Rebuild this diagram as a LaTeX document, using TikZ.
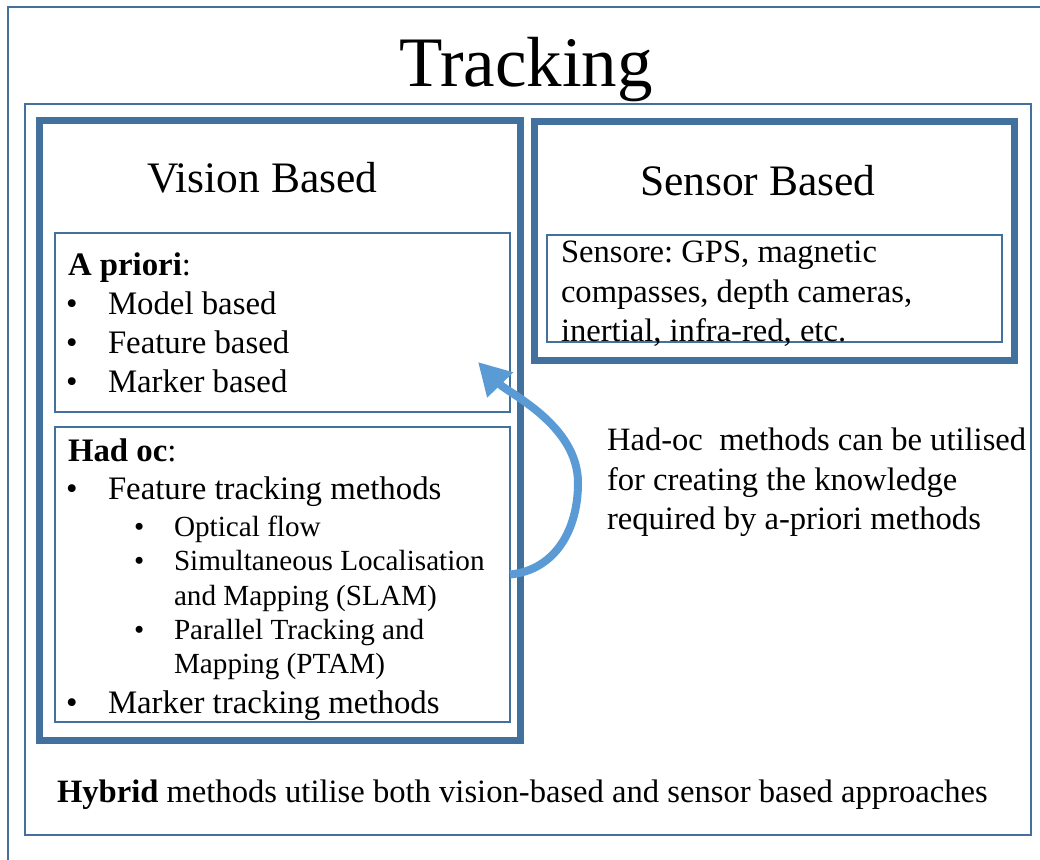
\documentclass[tikz,border=0pt]{standalone}
\usepackage{fontspec}
\setmainfont{Liberation Serif}
\frenchspacing
\usetikzlibrary{arrows.meta,calc}
\definecolor{boxblue}{RGB}{65,113,156}
\definecolor{arrowblue}{RGB}{91,155,213}
\tikzset{
  frame/.style={draw=boxblue, line width=2pt},
  thickbox/.style={draw=boxblue, line width=7pt, outer sep=0pt, inner sep=0pt, anchor=north west},
  thinbox/.style={draw=boxblue, line width=1.5pt, outer sep=0pt, inner sep=0pt, anchor=north west},
  txt/.style={inner sep=0pt, outer sep=0pt, anchor=base west, font=\fontsize{32.8}{39}\selectfont},
  subtxt/.style={txt, font=\fontsize{29.2}{35}\selectfont},
  bigtxt/.style={txt, font=\fontsize{32.6}{39}\selectfont},
  heading/.style={txt, font=\fontsize{43.5}{52}\selectfont},
}
\begin{document}
\begin{tikzpicture}[x=1pt,y=-1pt]
\useasboundingbox (0,0) rectangle (1040,859);
\fill[white] (0,0) rectangle (1040,859);

% outer and inner frames
\draw[frame] (1060,7.5) -- (7.5,7.5) -- (7.5,880);
\draw[frame] (25,104) rectangle (1031,835);

% title
\node[inner sep=0pt, anchor=base, font=\fontsize{71}{85}\selectfont] (title) at (526,86) {Tracking};

% vision based
\node[thickbox, minimum width=480.5pt, minimum height=619.5pt] (vision) at (39.5,120.5) {};
\node[heading] (visionhead) at (147,192) {Vision Based};

\node[thinbox, minimum width=455pt, minimum height=179pt] (apriori) at (55,233) {};
\node[txt] (aphead) at (68,275) {\textbf{A priori}:};
\node[txt] (apb1) at (66,314) {•};
\node[txt] (apt1) at (108,314) {Model based};
\node[txt] (apb2) at (66,353) {•};
\node[txt] (apt2) at (108,353) {Feature based};
\node[txt] (apb3) at (66,392) {•};
\node[txt] (apt3) at (108,392) {Marker based};

\node[thinbox, minimum width=455pt, minimum height=295pt] (hadoc) at (55,427) {};
\node[txt] (hohead) at (68,461) {\textbf{Had oc}:};
\node[txt] (hob1) at (66,499) {•};
\node[txt] (hot1) at (108,499) {Feature tracking methods};
\node[subtxt] (hos1) at (134,536) {•};
\node[subtxt] (hou1) at (174,536) {Optical flow};
\node[subtxt] (hos2) at (134,570) {•};
\node[subtxt] (hou2) at (174,570) {Simultaneous Localisation};
\node[subtxt] (hou2b) at (174,605) {and Mapping (SLAM)};
\node[subtxt] (hos3) at (134,639) {•};
\node[subtxt] (hou3) at (174,639) {Parallel Tracking and};
\node[subtxt] (hou3b) at (174,673) {Mapping (PTAM)};
\node[txt] (hob2) at (66,713) {•};
\node[txt] (hot2) at (108,713) {Marker tracking methods};

% sensor based
\node[thickbox, minimum width=479.5pt, minimum height=239.5pt] (sensor) at (534.5,121) {};
\node[heading] (sensorhead) at (640,195) {Sensor Based};
\node[thinbox, minimum width=455pt, minimum height=107pt] (sensore) at (547,235) {};
\node[bigtxt] (se1) at (561,262) {Sensore: GPS, magnetic};
\node[bigtxt] (se2) at (561,302) {compasses, depth cameras,};
\node[bigtxt] (se3) at (561,341) {inertial, infra-red, etc.};

% note on the right
\node[bigtxt] (note1) at (607,450) {Had-oc\ \ methods can be utilised};
\node[bigtxt] (note2) at (607,490) {for creating the knowledge};
\node[bigtxt] (note3) at (607,529) {required by a-priori methods};

% hybrid
\node[bigtxt] (hybrid) at (57,802) {\textbf{Hybrid} methods utilise both vision-based and sensor based approaches};

% curved arrow from the had oc box back to the a priori box
\coordinate (aptip) at ($(apriori.south east)+(-32,-50)$);
\draw[arrowblue, line width=8pt, -{Triangle[length=32pt,width=34pt]}]
  (hadoc.east) .. controls (555,570) and (578,530) .. (578,483)
  .. controls (578,425) and (508,393) .. (aptip);
\end{tikzpicture}
\end{document}
